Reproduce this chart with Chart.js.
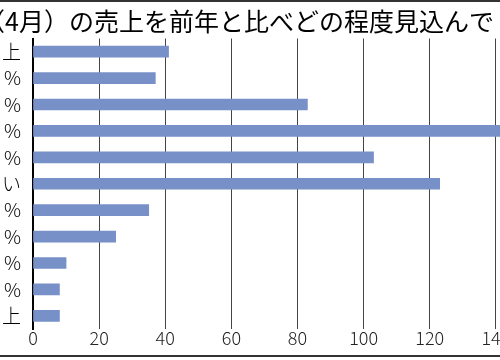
<!DOCTYPE html>
<html><head><meta charset="utf-8">
<script src="https://cdn.jsdelivr.net/npm/chart.js@4.4.0/dist/chart.umd.min.js"></script>
<style>
html,body{margin:0;padding:0;background:#fff;}
#wrap{position:relative;width:500px;height:360px;overflow:hidden;background:#fff;}
#c{position:absolute;left:-20px;top:0;}
.rule{position:absolute;left:0;width:500px;height:2px;background:#333;}
</style></head><body>
<div id="wrap">
<canvas id="c" width="612" height="360" style="width:612px;height:360px"></canvas>
<div class="rule" style="top:0"></div>
<div class="rule" style="top:355px"></div>
</div>
<script>
const categories = ['上','%','%','%','%','い','%','%','%','%','上'];
const values = [41,37,83,145,103,123,35,25,10,8,8];
const xMin = 0, xMax = 160, xStep = 20;
const titleText = '（4月）の売上を前年と比べどの程度見込んで';

const OFF = 20;
new Chart(document.getElementById('c'), {
  type: 'bar',
  data: {
    labels: categories,
    datasets: [{ data: values, backgroundColor: '#7790C8', barThickness: 11 }]
  },
  options: {
    indexAxis: 'y',
    responsive: false,
    animation: false,
    layout: { padding: { left: 0, right: 30, top: 0, bottom: 0 } },
    plugins: {
      legend: { display: false },
      tooltip: { enabled: false },
      title: {
        display: true, text: titleText, align: 'start', color: '#000',
        font: { family: '"Noto Sans CJK JP", sans-serif', size: 25, weight: 'normal', lineHeight: 1.2 },
        padding: { top: 6, bottom: 2.5 }
      }
    },
    scales: {
      x: {
        min: xMin, max: xMax,
        ticks: { stepSize: xStep, color: '#222', padding: -2,
          font: { family: '"Noto Sans CJK JP", sans-serif', size: 18, weight: 300 } },
        grid: { color: '#444', drawTicks: false, lineWidth: 1 },
        border: { display: false },
        afterFit(s) { s.height = 31; }
      },
      y: {
        grid: { display: false, drawTicks: false },
        border: { color: '#000', width: 2 },
        ticks: { color: '#000', padding: 12,
          font: { family: '"Noto Sans CJK JP", sans-serif', size: 19, weight: 300 } },
        afterFit(s) { s.width = OFF + 33; }
      }
    }
  }
});
</script>
</body></html>
